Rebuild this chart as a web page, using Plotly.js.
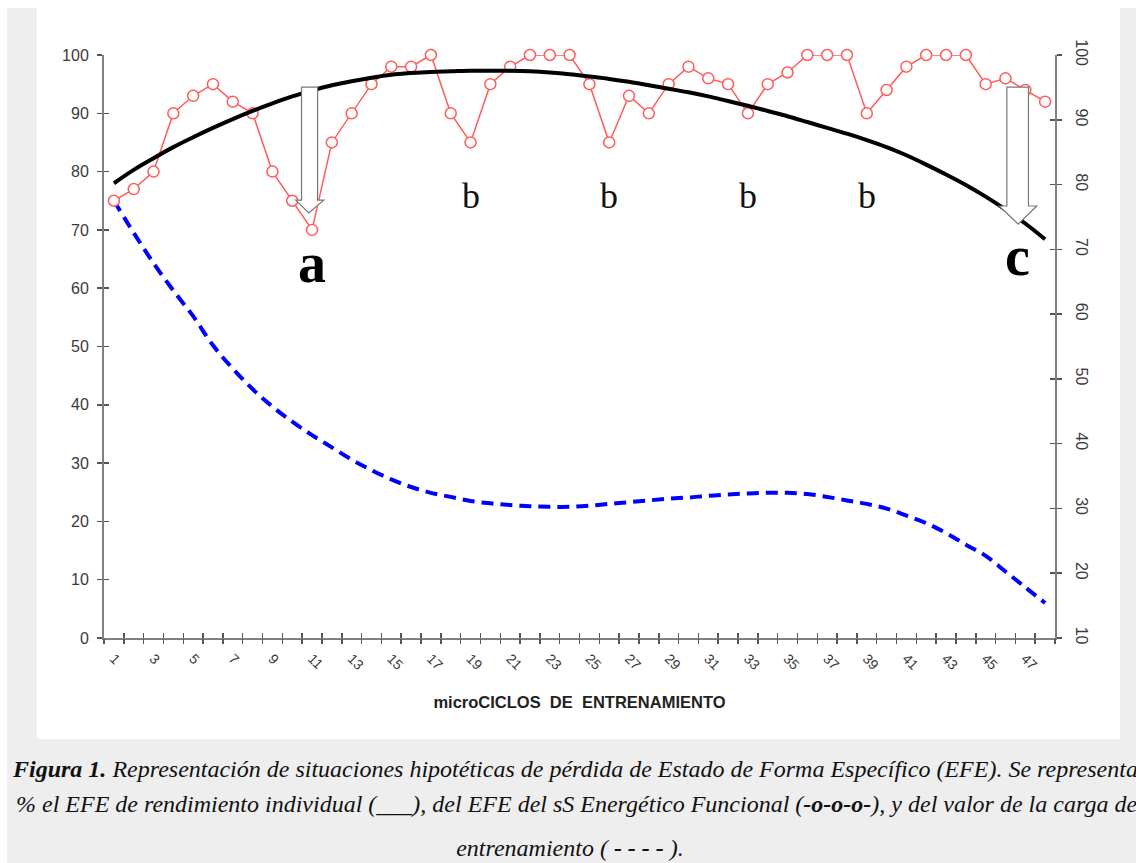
<!DOCTYPE html>
<html>
<head>
<meta charset="utf-8">
<script src="https://cdn.plot.ly/plotly-3.0.1.min.js"></script>
<style>
  html, body { margin: 0; padding: 0; width: 1136px; height: 863px; overflow: hidden; background: #ffffff; }
  #frame { position: absolute; left: 7px; top: 8px; width: 1129px; height: 855px; background: #eeeeee; }
  #panel { position: absolute; left: 37px; top: 0px; width: 1083px; height: 739px; background: #ffffff; }
  #chart { position: absolute; left: 0; top: 0; width: 1136px; height: 863px; }
  .cap { position: absolute; white-space: nowrap; font-family: "Liberation Serif", "Times New Roman", serif;
         font-style: italic; font-size: 24px; line-height: 24px; color: #111; }
</style>
</head>
<body>
<div id="frame"></div>
<div id="panel"></div>
<div id="chart"></div>
<div class="cap" style="left:13px; top:757px;"><b>Figura 1.</b> Representación de situaciones hipotéticas de pérdida de Estado de Forma Específico (EFE). Se representa</div>
<div class="cap" style="left:16px; top:792px;">% el EFE de rendimiento individual (___), del EFE del sS Energético Funcional (<b>-o-o-o-</b>), y del valor de la carga de</div>
<div class="cap" style="left:0; width:1140px; text-align:center; top:836px;">entrenamiento ( <b>- - - -</b> ).</div>
<script>
// ---- data ----
const microciclos = [];
for (let i = 1; i <= 48; i++) microciclos.push(i);

const efeFuncional = [75,77,80,90,93,95,92,90,80,75,
                      70,85,90,95,98,98,100,90,85,95,
                      98,100,100,100,95,85,93,90,95,98,
                      96,95,90,95,97,100,100,100,90,94,
                      98,100,100,100,95,96,94,92];

const efeIndividual = [78,80.3,82.3,84.2,85.9,87.5,89,90.4,91.7,92.9,
                       93.9,94.8,95.5,96.1,96.6,96.9,97.1,97.2,97.3,97.3,
                       97.3,97.2,97.0,96.7,96.3,95.9,95.4,94.8,94.2,93.6,
                       92.9,92.1,91.3,90.4,89.5,88.5,87.5,86.5,85.4,84.2,
                       82.8,81.2,79.5,77.7,75.7,73.5,71.1,68.4];

const cargaEntrenamiento = [75,69.5,64.3,59.6,55.2,50.2,46.2,42.7,39.7,37.1,
                            34.8,32.7,30.6,28.8,27.2,25.9,24.9,24.2,23.5,23.1,
                            22.8,22.6,22.5,22.5,22.7,23.0,23.3,23.6,23.9,24.1,
                            24.4,24.6,24.8,24.9,24.9,24.7,24.2,23.6,23.0,22.2,
                            21.0,19.7,18.0,16.0,14.1,11.4,8.7,6.0];

const xTickLabels = microciclos.filter(v => v % 2 === 1);
const leftTicks = [0,10,20,30,40,50,60,70,80,90,100];
const rightTicks = [10,20,30,40,50,60,70,80,90,100];

// dip labels
const dipB = [19, 26, 33, 39];

// ---- styling ----
const axisGray = '#808080';
const tickGray = '#555555';
const labelColor = '#3a3a3a';
const sans = '"Liberation Sans", Arial, sans-serif';
const serif = '"Liberation Serif", "Times New Roman", serif';

const boundaries = [];
for (let i = 0; i <= microciclos.length; i++) boundaries.push(i + 0.5);

const traces = [
  { x: microciclos, y: cargaEntrenamiento, type: 'scatter', mode: 'lines',
    line: { color: '#0000ff', width: 4, dash: '12px,7px', shape: 'spline', smoothing: 1 },
    hoverinfo: 'skip', cliponaxis: false },
  { x: microciclos, y: efeFuncional, type: 'scatter', mode: 'lines+markers',
    line: { color: '#ff5c5c', width: 1.5 },
    marker: { symbol: 'circle', size: 11, color: '#ffffff', line: { color: '#ff5c5c', width: 1.5 } },
    hoverinfo: 'skip', cliponaxis: false },
  { x: microciclos, y: efeIndividual, type: 'scatter', mode: 'lines',
    line: { color: '#000000', width: 4, shape: 'spline', smoothing: 1 },
    hoverinfo: 'skip', cliponaxis: false },
  // empty traces so the overlay tick axes are drawn
  { x: [], y: [], type: 'scatter', mode: 'lines', xaxis: 'x2', yaxis: 'y', hoverinfo: 'skip' },
  { x: [], y: [], type: 'scatter', mode: 'lines', xaxis: 'x3', yaxis: 'y', hoverinfo: 'skip' },
  { x: [], y: [], type: 'scatter', mode: 'lines', xaxis: 'x', yaxis: 'y2', hoverinfo: 'skip' },
  { x: [], y: [], type: 'scatter', mode: 'lines', xaxis: 'x', yaxis: 'y3', hoverinfo: 'skip' },
  { x: [], y: [], type: 'scatter', mode: 'lines', xaxis: 'x', yaxis: 'y4', hoverinfo: 'skip' }
];

function arrowPath(xl, xr, hl, hr, xt, ytop, ybase, ytip) {
  return 'M' + xl + ',' + ytop + ' L' + xr + ',' + ytop + ' L' + xr + ',' + ybase +
         ' L' + hr + ',' + ybase + ' L' + xt + ',' + ytip + ' L' + hl + ',' + ybase +
         ' L' + xl + ',' + ybase + ' Z';
}

const shapes = [
  { type: 'path', xref: 'x', yref: 'y', layer: 'above',
    path: arrowPath(10.47, 11.28, 10.18, 11.59, 10.84, 94.5, 75.1, 72.9),
    fillcolor: '#ffffff', line: { color: '#777777', width: 1.2 } },
  { type: 'path', xref: 'x', yref: 'y', layer: 'above',
    path: arrowPath(46.07, 47.16, 45.68, 47.58, 46.64, 94.5, 74.1, 71.0),
    fillcolor: '#ffffff', line: { color: '#777777', width: 1.2 } }
];

const annotations = [];
dipB.forEach(function (d) {
  annotations.push({ x: d, y: 75.8, xref: 'x', yref: 'y', text: 'b', showarrow: false,
    font: { family: serif, size: 36, color: '#111' }, xanchor: 'center', yanchor: 'middle' });
});
annotations.push({ x: 11.0, y: 64.3, xref: 'x', yref: 'y', text: '<b>a</b>', showarrow: false,
  font: { family: serif, size: 56, color: '#000' }, xanchor: 'center', yanchor: 'middle' });
annotations.push({ x: 46.6, y: 65.6, xref: 'x', yref: 'y', text: '<b>c</b>', showarrow: false,
  font: { family: serif, size: 56, color: '#000' }, xanchor: 'center', yanchor: 'middle' });

const xRange = [0.5, 48.5];

const layout = {
  width: 1136, height: 863,
  margin: { l: 104, r: 81, t: 55, b: 225, pad: 0 },
  paper_bgcolor: 'rgba(0,0,0,0)',
  plot_bgcolor: 'rgba(0,0,0,0)',
  showlegend: false,
  font: { family: sans, color: labelColor },
  xaxis: {
    range: xRange, showgrid: false, zeroline: false,
    showline: true, linecolor: axisGray, linewidth: 2,
    tickmode: 'array', tickvals: xTickLabels, ticktext: xTickLabels.map(String),
    ticks: '', tickangle: 45, ticklabelstandoff: 5,
    tickfont: { family: sans, size: 14, color: labelColor },
    title: { text: 'microCICLOS\u00a0 DE\u00a0 ENTRENAMIENTO', standoff: 24,
             font: { family: sans, size: 16.5, color: '#222', weight: 'bold' } }
  },
  xaxis2: {
    overlaying: 'x', anchor: 'y', side: 'bottom', range: xRange,
    showgrid: false, zeroline: false, showline: false, showticklabels: false,
    tickmode: 'array', tickvals: boundaries, ticks: 'outside', ticklen: 5, tickwidth: 1.5, tickcolor: tickGray
  },
  xaxis3: {
    overlaying: 'x', anchor: 'y', side: 'bottom', range: xRange,
    showgrid: false, zeroline: false, showline: false, showticklabels: false,
    tickmode: 'array', tickvals: boundaries, ticks: 'inside', ticklen: 5, tickwidth: 1.5, tickcolor: tickGray
  },
  yaxis: {
    range: [0, 100], showgrid: false, zeroline: false,
    showline: true, linecolor: axisGray, linewidth: 2,
    tickmode: 'array', tickvals: leftTicks, ticks: 'outside', ticklen: 5, tickwidth: 1.5, tickcolor: tickGray,
    ticklabelstandoff: 5,
    tickfont: { family: sans, size: 16, color: labelColor }
  },
  yaxis3: {
    overlaying: 'y', anchor: 'x', side: 'left', range: [0, 100],
    showgrid: false, zeroline: false, showline: false, showticklabels: false,
    tickmode: 'array', tickvals: leftTicks, ticks: 'inside', ticklen: 5, tickwidth: 1.5, tickcolor: tickGray
  },
  yaxis2: {
    overlaying: 'y', anchor: 'x', side: 'right', range: [10, 100],
    showgrid: false, zeroline: false,
    showline: true, linecolor: axisGray, linewidth: 2,
    tickmode: 'array', tickvals: rightTicks, ticks: 'outside', ticklen: 5, tickwidth: 1.5, tickcolor: tickGray,
    tickangle: 90, ticklabelstandoff: 8,
    tickfont: { family: sans, size: 16, color: labelColor }
  },
  yaxis4: {
    overlaying: 'y', anchor: 'x', side: 'right', range: [10, 100],
    showgrid: false, zeroline: false, showline: false, showticklabels: false,
    tickmode: 'array', tickvals: rightTicks, ticks: 'inside', ticklen: 5, tickwidth: 1.5, tickcolor: tickGray
  },
  shapes: shapes,
  annotations: annotations
};

Plotly.newPlot('chart', traces, layout, { staticPlot: true, displayModeBar: false });
</script>
</body>
</html>
